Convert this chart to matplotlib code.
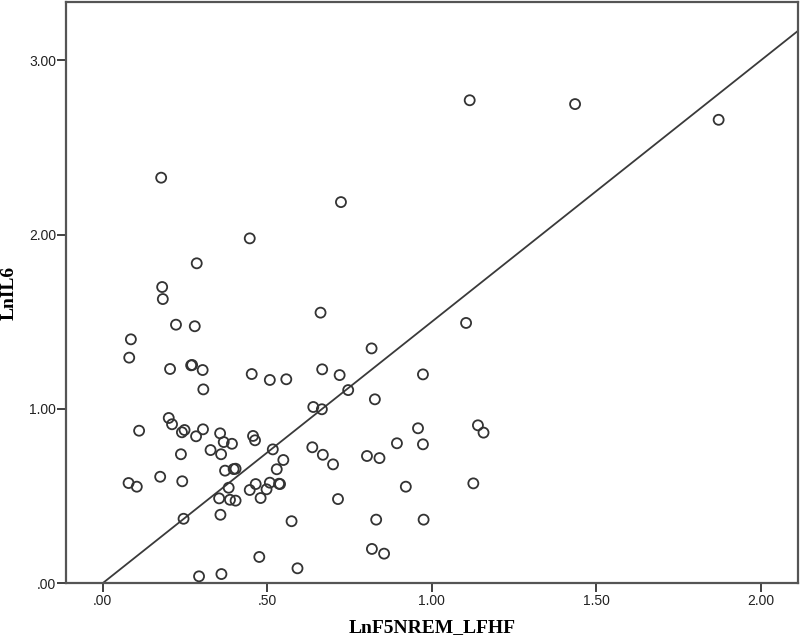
import matplotlib.pyplot as plt
from matplotlib.ticker import FuncFormatter
import numpy as np

# LnF5NREM_LFHF (x) vs LnIL6 (y)
ln_lfhf = [1.115, 1.435, 1.871, 0.724, 0.178, 0.447, 0.286, 0.181, 0.183, 0.223,
           0.280, 0.086, 0.081, 0.205, 0.269, 0.272, 0.304, 0.306, 0.453, 0.508,
           0.558, 0.662, 0.667, 0.640, 0.666, 0.201, 0.211, 0.111, 0.241, 0.249,
           0.305, 0.284, 0.357, 0.368, 0.393, 0.457, 0.463, 0.238, 0.328, 0.360,
           0.517, 0.549, 0.637, 0.529, 0.372, 0.398, 0.404, 0.175, 0.079, 0.104,
           0.242, 0.465, 0.508, 0.536, 0.539, 0.447, 0.498, 0.383, 0.354, 0.387,
           0.404, 0.480, 0.246, 0.358, 0.574, 0.476, 0.592, 0.293, 0.361, 1.104,
           0.817, 0.720, 0.973, 0.746, 0.827, 0.958, 0.973, 1.140, 1.157, 0.894,
           0.669, 0.700, 0.803, 0.841, 0.921, 1.126, 0.715, 0.831, 0.975, 0.818,
           0.855]
ln_il6 = [2.770, 2.748, 2.658, 2.186, 2.326, 1.978, 1.835, 1.699, 1.630, 1.483,
          1.474, 1.399, 1.294, 1.229, 1.250, 1.252, 1.223, 1.112, 1.200, 1.166,
          1.170, 1.552, 1.227, 1.011, 0.998, 0.948, 0.912, 0.875, 0.866, 0.879,
          0.883, 0.843, 0.860, 0.810, 0.800, 0.845, 0.820, 0.740, 0.764, 0.740,
          0.768, 0.707, 0.780, 0.654, 0.646, 0.655, 0.657, 0.611, 0.575, 0.554,
          0.585, 0.569, 0.577, 0.571, 0.569, 0.535, 0.539, 0.548, 0.487, 0.479,
          0.474, 0.489, 0.370, 0.393, 0.356, 0.151, 0.086, 0.040, 0.053, 1.493,
          1.347, 1.194, 1.198, 1.108, 1.055, 0.889, 0.797, 0.906, 0.864, 0.803,
          0.737, 0.682, 0.730, 0.718, 0.554, 0.573, 0.483, 0.365, 0.365, 0.197,
          0.170]

fit_slope = 1.50
fit_intercept = 0.0
x_ticks = [0.0, 0.5, 1.0, 1.5, 2.0]
y_ticks = [0.0, 1.0, 2.0, 3.0]

plt.rcParams['font.family'] = ['Liberation Serif', 'DejaVu Serif']

fig = plt.figure(figsize=(8, 6.4), dpi=100)
ax = fig.add_axes([0.0821, 0.0886, 0.9158, 0.9087])

xmin, xmax = -0.112, 2.113
fx = np.array([0.0, xmax])
ax.plot(fx, fit_intercept + fit_slope * fx, color='#3a3a3a', lw=1.3, zorder=2)

ax.scatter(ln_lfhf, ln_il6, s=52, facecolors='none', edgecolors='#333333',
           linewidths=1.3, zorder=3)

ax.set_xlim(xmin, xmax)
ax.set_ylim(0, 3.335)
ax.set_xticks(x_ticks)
ax.set_yticks(y_ticks)
fmt = FuncFormatter(lambda v, p: ('%.2f' % v).lstrip('0') if v < 1 else '%.2f' % v)
ax.xaxis.set_major_formatter(fmt)
ax.yaxis.set_major_formatter(fmt)
ax.tick_params(direction='out', length=6.5, width=1.3, color='#333333',
               labelsize=10, pad=0.5, labelcolor='#222222')
ax.tick_params(axis='x', pad=1.5)
for lab in ax.get_xticklabels() + ax.get_yticklabels():
    lab.set_family(['Liberation Sans', 'DejaVu Sans'])

for s in ax.spines.values():
    s.set_color('#555555')
    s.set_linewidth(1.6)

ax.set_xlabel('LnF5NREM_LFHF', fontsize=14, fontweight='bold', labelpad=8)
ax.set_ylabel('LnIL6', fontsize=14, fontweight='bold')
ax.yaxis.set_label_coords(-0.066, 0.5)

fig.savefig('out.png', dpi=100)
